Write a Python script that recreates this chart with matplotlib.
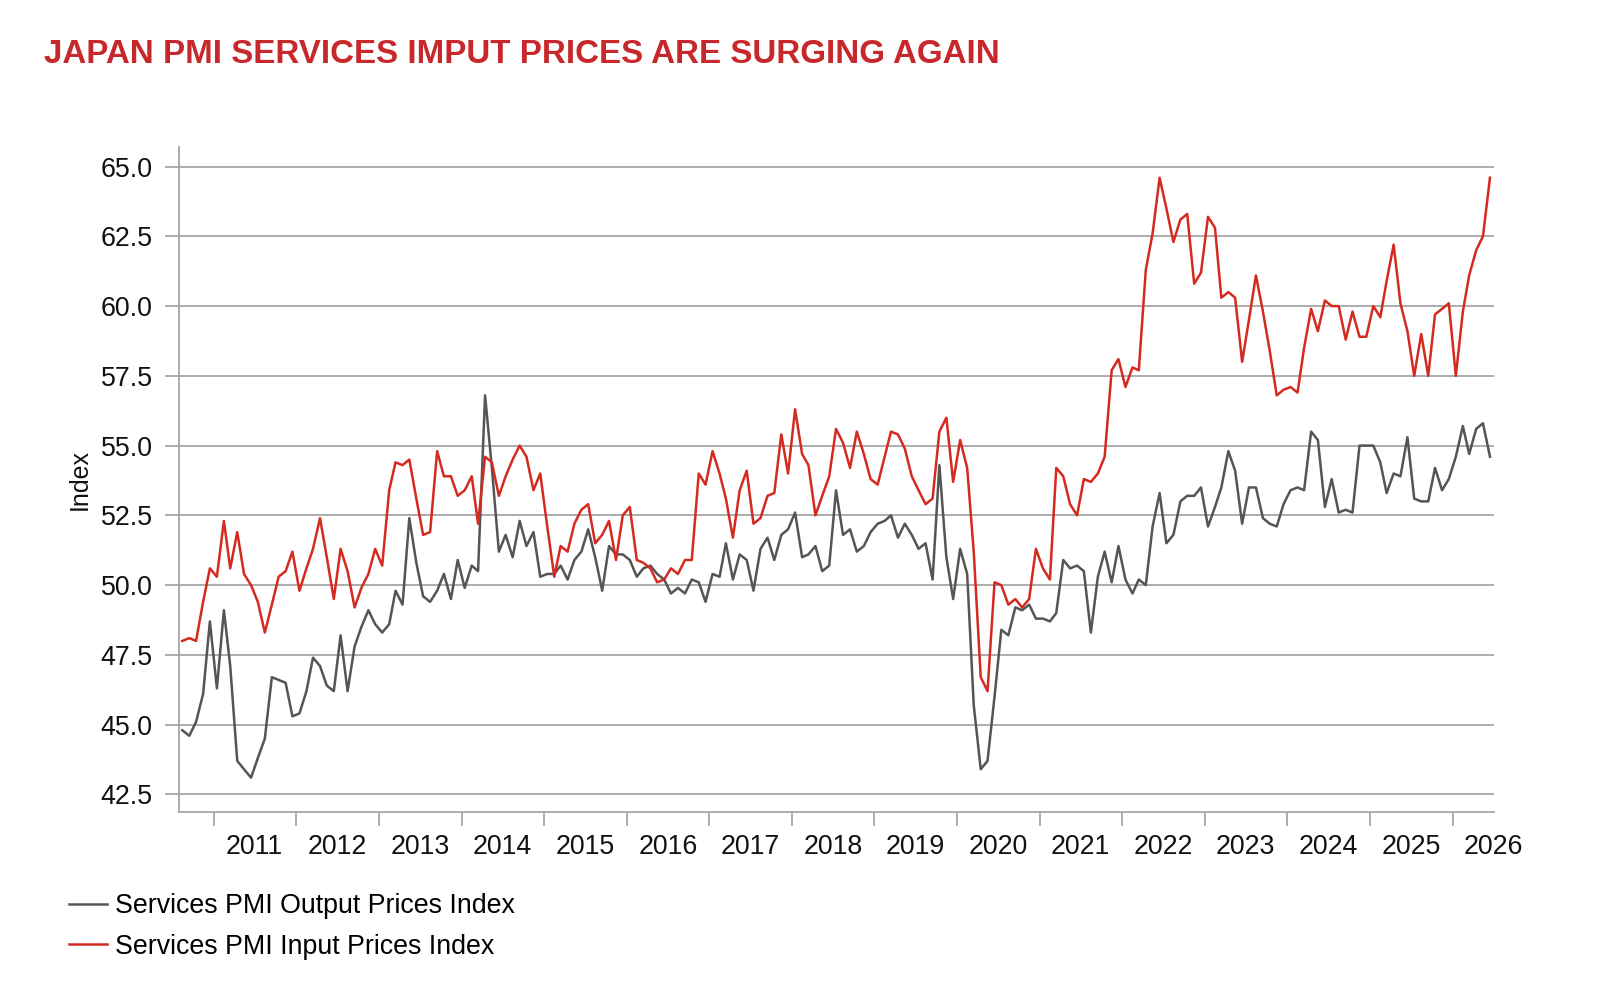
import numpy as np
import pandas as pd
import matplotlib
matplotlib.use("Agg")
from matplotlib import pyplot as plt
import matplotlib.dates as mdates

plt.rcParams['font.family'] = ['Liberation Sans', 'DejaVu Sans']

# monthly data, Aug 2010 .. Jun 2026
start_month = '2010-08-01'
end_month = '2026-06-01'

# Services PMI Output Prices Index (grey)
output_prices = [
    44.8, 44.6, 45.1, 46.1, 48.7, 46.3, 49.1, 47.1, 43.7, 43.4, 43.1, 43.8,
    44.5, 46.7, 46.6, 46.5, 45.3, 45.4, 46.2, 47.4, 47.1, 46.4, 46.2, 48.2,
    46.2, 47.8, 48.5, 49.1, 48.6, 48.3, 48.6, 49.8, 49.3, 52.4, 50.8, 49.6,
    49.4, 49.8, 50.4, 49.5, 50.9, 49.9, 50.7, 50.5, 56.8, 54.2, 51.2, 51.8,
    51.0, 52.3, 51.4, 51.9, 50.3, 50.4, 50.4, 50.7, 50.2, 50.9, 51.2, 52.0,
    51.0, 49.8, 51.4, 51.1, 51.1, 50.9, 50.3, 50.6, 50.7, 50.4, 50.2, 49.7,
    49.9, 49.7, 50.2, 50.1, 49.4, 50.4, 50.3, 51.5, 50.2, 51.1, 50.9, 49.8,
    51.3, 51.7, 50.9, 51.8, 52.0, 52.6, 51.0, 51.1, 51.4, 50.5, 50.7, 53.4,
    51.8, 52.0, 51.2, 51.4, 51.9, 52.2, 52.3, 52.5, 51.7, 52.2, 51.8, 51.3,
    51.5, 50.2, 54.3, 51.0, 49.5, 51.3, 50.4, 45.7, 43.4, 43.7, 46.0, 48.4,
    48.2, 49.2, 49.1, 49.3, 48.8, 48.8, 48.7, 49.0, 50.9, 50.6, 50.7, 50.5,
    48.3, 50.3, 51.2, 50.1, 51.4, 50.2, 49.7, 50.2, 50.0, 52.1, 53.3, 51.5,
    51.8, 53.0, 53.2, 53.2, 53.5, 52.1, 52.8, 53.5, 54.8, 54.1, 52.2, 53.5,
    53.5, 52.4, 52.2, 52.1, 52.9, 53.4, 53.5, 53.4, 55.5, 55.2, 52.8, 53.8,
    52.6, 52.7, 52.6, 55.0, 55.0, 55.0, 54.4, 53.3, 54.0, 53.9, 55.3, 53.1,
    53.0, 53.0, 54.2, 53.4, 53.8, 54.6, 55.7, 54.7, 55.6, 55.8, 54.6,
]

# Services PMI Input Prices Index (red)
input_prices = [
    48.0, 48.1, 48.0, 49.4, 50.6, 50.3, 52.3, 50.6, 51.9, 50.4, 50.0, 49.4,
    48.3, 49.3, 50.3, 50.5, 51.2, 49.8, 50.6, 51.3, 52.4, 51.0, 49.5, 51.3,
    50.5, 49.2, 49.9, 50.4, 51.3, 50.7, 53.4, 54.4, 54.3, 54.5, 53.1, 51.8,
    51.9, 54.8, 53.9, 53.9, 53.2, 53.4, 53.9, 52.2, 54.6, 54.4, 53.2, 53.9,
    54.5, 55.0, 54.6, 53.4, 54.0, 52.1, 50.3, 51.4, 51.2, 52.2, 52.7, 52.9,
    51.5, 51.8, 52.3, 50.9, 52.5, 52.8, 50.9, 50.8, 50.6, 50.1, 50.2, 50.6,
    50.4, 50.9, 50.9, 54.0, 53.6, 54.8, 54.0, 53.1, 51.7, 53.4, 54.1, 52.2,
    52.4, 53.2, 53.3, 55.4, 54.0, 56.3, 54.7, 54.3, 52.5, 53.2, 53.9, 55.6,
    55.1, 54.2, 55.5, 54.7, 53.8, 53.6, 54.6, 55.5, 55.4, 54.9, 53.9, 53.4,
    52.9, 53.1, 55.5, 56.0, 53.7, 55.2, 54.2, 51.2, 46.7, 46.2, 50.1, 50.0,
    49.3, 49.5, 49.2, 49.5, 51.3, 50.6, 50.2, 54.2, 53.9, 52.9, 52.5, 53.8,
    53.7, 54.0, 54.6, 57.7, 58.1, 57.1, 57.8, 57.7, 61.3, 62.6, 64.6, 63.5,
    62.3, 63.1, 63.3, 60.8, 61.2, 63.2, 62.8, 60.3, 60.5, 60.3, 58.0, 59.5,
    61.1, 59.8, 58.4, 56.8, 57.0, 57.1, 56.9, 58.5, 59.9, 59.1, 60.2, 60.0,
    60.0, 58.8, 59.8, 58.9, 58.9, 60.0, 59.6, 60.9, 62.2, 60.1, 59.1, 57.5,
    59.0, 57.5, 59.7, 59.9, 60.1, 57.5, 59.8, 61.1, 62.0, 62.5, 64.6,
]

year_labels = ['2011', '2012', '2013', '2014', '2015', '2016', '2017', '2018',
               '2019', '2020', '2021', '2022', '2023', '2024', '2025', '2026']
y_ticks = [42.5, 45.0, 47.5, 50.0, 52.5, 55.0, 57.5, 60.0, 62.5, 65.0]

series_names = ['Services PMI Output Prices Index', 'Services PMI Input Prices Index']

# points sit in the middle of each month
dates = pd.date_range(start_month, end_month, freq='MS') + pd.Timedelta(days=14)

grid_col = '#a6a6a6'
red = '#d42a20'
grey = '#555555'

fig = plt.figure(figsize=(16.24, 9.86), dpi=100)
ax = fig.add_axes([0.1103, 0.1765, 0.8094, 0.6744])

l1, = ax.plot(dates, output_prices, color=grey, lw=1.8, zorder=3)
l2, = ax.plot(dates, input_prices, color=red, lw=1.8, zorder=4)

ax.set_xlim(pd.Timestamp(start_month), pd.Timestamp('2026-07-01'))
ax.set_ylim(41.87, 65.7)

# year boundaries as ticks, labels in the middle of each year
ax.set_xticks([pd.Timestamp(y + '-01-01') for y in year_labels])
ax.set_xticklabels([])
ax.set_xticks([pd.Timestamp(y + '-07-01') for y in year_labels], minor=True)
ax.set_xticklabels(year_labels, minor=True)
ax.tick_params(axis='x', which='major', length=10, width=1.3, color=grid_col, direction='out')
ax.tick_params(axis='x', which='minor', length=0, pad=16, labelsize=19.3, labelcolor='#111111')

ax.set_yticks(y_ticks)
ax.set_yticklabels(['%.1f' % v for v in y_ticks])
ax.tick_params(axis='y', length=10, width=1.3, color=grid_col, pad=9, labelsize=19.3,
               labelcolor='#111111')
ax.grid(axis='y', color=grid_col, lw=1.3, zorder=0)

for s in ['top', 'right']:
    ax.spines[s].set_visible(False)
for s in ['left', 'bottom']:
    ax.spines[s].set_color(grid_col)
    ax.spines[s].set_linewidth(1.3)

ax.set_ylabel('Index', fontsize=18, color='#111111')
ax.yaxis.set_label_coords(-0.0668, 0.5)

fig.text(0.0274, 0.945, 'JAPAN PMI SERVICES IMPUT PRICES ARE SURGING AGAIN',
         fontsize=23.9, fontweight='bold', color='#c8282b', ha='left', va='center')

fig.legend([l1, l2], series_names, loc='upper left', bbox_to_anchor=(0.0425, 0.0939),
           frameon=False, fontsize=19.3, handlelength=1.4, handletextpad=0.3,
           labelspacing=0.53, borderaxespad=0, borderpad=0)

fig.savefig('out.png', dpi=100)
